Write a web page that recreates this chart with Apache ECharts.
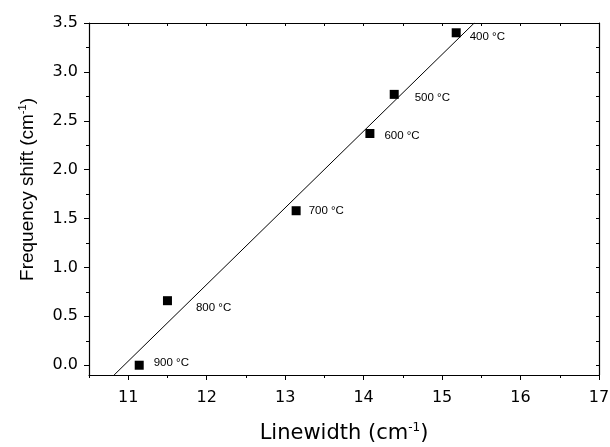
<!DOCTYPE html>
<html>
<head>
<meta charset="utf-8">
<script src="https://cdn.jsdelivr.net/npm/echarts@6/dist/echarts.min.js"></script>
<style>
  html, body { margin: 0; padding: 0; background: #fff; }
  #chart { width: 610px; height: 447px; }
</style>
</head>
<body>
<div id="chart"></div>
<script>
// annealing temperature for each point
var temps = ['400 °C', '500 °C', '600 °C', '700 °C', '800 °C', '900 °C'];
// linewidth (cm-1)
var linewidth = [15.18, 14.39, 14.08, 13.14, 11.50, 11.14];
// frequency shift (cm-1)
var shift = [3.40, 2.77, 2.37, 1.58, 0.66, 0.00];
// linear fit, two ends as drawn
var fitX = [10.82, 15.41];
var fitY = [-0.10, 3.50];

var xTicks = [11, 12, 13, 14, 15, 16, 17];
var xMinor = [10.5, 11.5, 12.5, 13.5, 14.5, 15.5, 16.5];
var yTicks = [0, 0.5, 1.0, 1.5, 2.0, 2.5, 3.0, 3.5];
var yMinor = [0.25, 0.75, 1.25, 1.75, 2.25, 2.75, 3.25];

// label nudges so text sits where it does in the figure
var labelNudge = [[4, 4], [11, 3], [5, 2], [3, 0], [19, 7], [5, -2]];

var font = "'Liberation Sans', Arial, sans-serif";
var wide = "'DejaVu Sans', sans-serif";
var black = '#000';

var chart = echarts.init(document.getElementById('chart'));

function frameX(pos, values, len, inside, extra) {
  return Object.assign({
    type: 'value', position: pos, min: 10.5, max: 17,
    axisLine: { show: false, onZero: false },
    axisTick: { show: true, customValues: values, length: len, inside: inside,
      lineStyle: { color: black, width: 1 } },
    axisLabel: { show: false },
    splitLine: { show: false }
  }, extra || {});
}
function frameY(pos, values, len, inside, extra) {
  return Object.assign({
    type: 'value', position: pos, min: -0.1, max: 3.5,
    axisLine: { show: false, onZero: false },
    axisTick: { show: true, customValues: values, length: len, inside: inside,
      lineStyle: { color: black, width: 1 } },
    axisLabel: { show: false },
    splitLine: { show: false }
  }, extra || {});
}

chart.setOption({
  animation: false,
  backgroundColor: '#fff',
  grid: { left: 89, right: 11, top: 23, bottom: 72, containLabel: false, outerBoundsMode: 'none' },
  xAxis: [
    frameX('bottom', xTicks, 5, false, {
      axisLine: { show: true, onZero: false, lineStyle: { color: black, width: 1.2 } },
      axisLabel: { show: true, customValues: xTicks, margin: 15, fontSize: 16,
        fontFamily: wide, color: black },
      name: 'Linewidth (cm{sup|-1})',
      nameLocation: 'middle', nameGap: 47,
      nameTextStyle: { fontSize: 21, fontFamily: wide, color: black,
        rich: { sup: { fontSize: 12, fontFamily: wide, color: black, padding: [0, 0, 12, 0] } } }
    }),
    frameX('bottom', xMinor, 3, false),
    frameX('top', xTicks.concat(xMinor), 3, true, {
      axisLine: { show: true, onZero: false, lineStyle: { color: black, width: 1.2 } }
    })
  ],
  yAxis: [
    frameY('left', yTicks, 5, false, {
      axisLine: { show: true, onZero: false, lineStyle: { color: black, width: 1.2 } },
      axisLabel: { show: true, customValues: yTicks, margin: 11, fontSize: 16,
        fontFamily: wide, color: black,
        formatter: function (v) { return v.toFixed(1); } },
      name: 'Frequency shift (cm{sup|-1})',
      nameLocation: 'middle', nameGap: 50,
      nameTextStyle: { fontSize: 19, fontFamily: font, color: black, padding: [0, 0, 0, 19],
        rich: { sup: { fontSize: 11, fontFamily: font, color: black, padding: [0, 0, 11, 0] } } }
    }),
    frameY('left', yMinor, 3, false),
    frameY('right', yTicks.concat(yMinor), 3, true, {
      axisLine: { show: true, onZero: false, lineStyle: { color: black, width: 1.2 } }
    })
  ],
  series: [
    {
      type: 'line',
      data: fitX.map(function (x, i) { return [x, fitY[i]]; }),
      showSymbol: false,
      symbol: 'none',
      lineStyle: { color: black, width: 1 },
      silent: true
    },
    {
      type: 'scatter',
      symbol: 'rect',
      symbolSize: 9,
      itemStyle: { color: black, opacity: 1 },
      data: linewidth.map(function (x, i) {
        return {
          value: [x, shift[i]],
          label: {
            show: true, position: 'right', offset: labelNudge[i],
            formatter: temps[i], fontSize: 11.5, fontFamily: font, color: black
          }
        };
      })
    }
  ]
});
</script>
</body>
</html>
